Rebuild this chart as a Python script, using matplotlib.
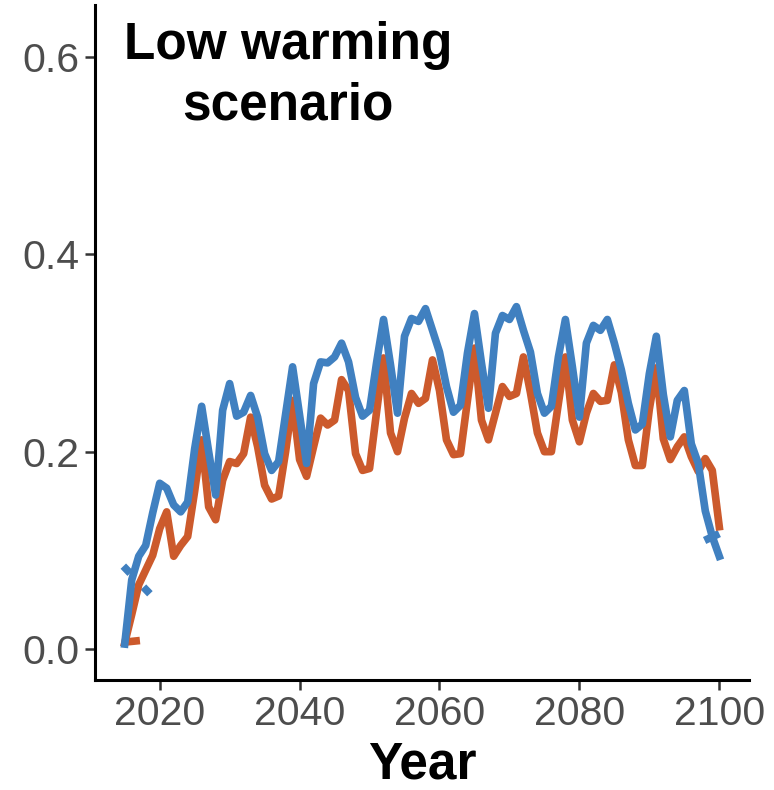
import matplotlib
matplotlib.use("Agg")
from matplotlib import pyplot as plt
import numpy as np

plt.rcParams["font.family"] = ["Liberation Sans", "DejaVu Sans"]

years = np.arange(2015, 2101)

# blue series
blue = [0.005, 0.070, 0.094, 0.105, 0.138, 0.168, 0.163, 0.146, 0.139, 0.149,
        0.203, 0.246, 0.200, 0.156, 0.242, 0.269, 0.236, 0.240, 0.257, 0.235,
        0.198, 0.181, 0.190, 0.238, 0.286, 0.237, 0.188, 0.269, 0.291, 0.290,
        0.296, 0.310, 0.291, 0.255, 0.236, 0.242, 0.290, 0.334, 0.288, 0.239,
        0.317, 0.335, 0.332, 0.345, 0.323, 0.301, 0.266, 0.240, 0.247, 0.300,
        0.340, 0.290, 0.244, 0.320, 0.338, 0.334, 0.347, 0.323, 0.301, 0.259,
        0.239, 0.246, 0.296, 0.334, 0.286, 0.235, 0.310, 0.328, 0.323, 0.334,
        0.310, 0.283, 0.249, 0.222, 0.228, 0.279, 0.317, 0.258, 0.215, 0.252,
        0.262, 0.208, 0.188, 0.140, 0.114, 0.094]

# orange series
orange = [0.006, 0.035, 0.065, 0.080, 0.095, 0.122, 0.139, 0.094, 0.105, 0.114,
          0.160, 0.212, 0.144, 0.131, 0.171, 0.190, 0.188, 0.198, 0.235, 0.205,
          0.166, 0.152, 0.155, 0.200, 0.252, 0.192, 0.175, 0.205, 0.234, 0.227,
          0.232, 0.273, 0.262, 0.198, 0.181, 0.183, 0.240, 0.295, 0.219, 0.200,
          0.234, 0.259, 0.249, 0.254, 0.293, 0.262, 0.212, 0.197, 0.198, 0.252,
          0.305, 0.232, 0.212, 0.239, 0.266, 0.256, 0.259, 0.296, 0.260, 0.219,
          0.200, 0.200, 0.249, 0.296, 0.232, 0.210, 0.239, 0.259, 0.251, 0.252,
          0.288, 0.260, 0.212, 0.186, 0.186, 0.243, 0.285, 0.213, 0.192, 0.205,
          0.215, 0.195, 0.180, 0.193, 0.181, 0.124]

# short trend pieces visible near the ends
blue_start_x = [2014.8, 2018.6]
blue_start_y = [0.084, 0.056]
blue_end_x = [2097.9, 2100.0]
blue_end_y = [0.110, 0.117]
orange_start_x = [2015.0, 2019.1]
orange_start_y = [0.007, 0.010]

blue_col = "#4080C0"
orange_col = "#CC5A2C"

fig = plt.figure(figsize=(7.74, 7.90), dpi=100)
ax = fig.add_axes([95 / 774, 110 / 790, 654 / 774, 675 / 790])

ax.plot(orange_start_x, orange_start_y, color=orange_col, lw=5.5,
        dashes=(2, 2), solid_capstyle="butt", dash_capstyle="butt")
ax.plot(blue_start_x, blue_start_y, color=blue_col, lw=5.5,
        dashes=(1.3, 2.5), dash_capstyle="butt")
ax.plot(blue_end_x, blue_end_y, color=blue_col, lw=5.5, solid_capstyle="butt")

ax.plot(years, orange, color=orange_col, lw=5.5)
ax.plot(years, blue, color=blue_col, lw=5.5)

ax.set_xlim(2010.75, 2104.25)
ax.set_ylim(-0.0314, 0.6527)
ax.set_xticks([2020, 2040, 2060, 2080, 2100])
ax.set_yticks([0.0, 0.2, 0.4, 0.6])
ax.set_yticklabels(["0.0", "0.2", "0.4", "0.6"])

for s in ["top", "right"]:
    ax.spines[s].set_visible(False)
for s in ["left", "bottom"]:
    ax.spines[s].set_linewidth(2.2)
    ax.spines[s].set_color("black")

ax.tick_params(axis="both", length=7, width=1.8, color="#333333",
               labelsize=29.5, labelcolor="#4D4D4D", pad=4)

ax.set_xlabel("Year", fontsize=37, fontweight="bold", labelpad=5)

ax.text(0.295, 0.976, "Low warming\nscenario", transform=ax.transAxes,
        ha="center", va="top", fontsize=37, fontweight="bold",
        linespacing=1.3)

fig.savefig("out.png", dpi=100)
